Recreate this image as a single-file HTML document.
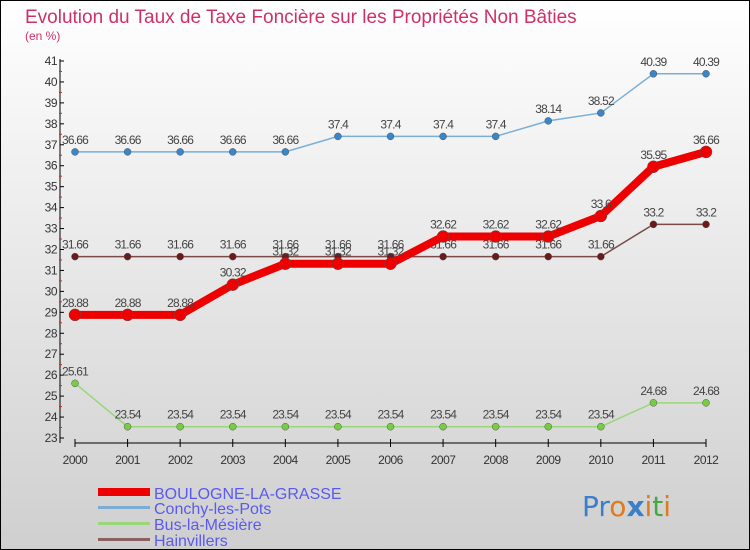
<!DOCTYPE html>
<html><head><meta charset="utf-8"><style>
body{margin:0;width:750px;height:550px;overflow:hidden;font-family:"Liberation Sans",sans-serif}
svg{display:block}
</style></head><body>
<svg id="chart" width="750" height="550" xmlns="http://www.w3.org/2000/svg">
<defs><linearGradient id="bg" x1="0" y1="0" x2="0" y2="1"><stop offset="0" stop-color="#ffffff"/><stop offset="1" stop-color="#cfcfcf"/></linearGradient></defs>
<rect x="0.5" y="0.5" width="749" height="549" fill="url(#bg)" stroke="#000"/>
<text x="25" y="23" font-size="19" fill="#d0306a">Evolution du Taux de Taxe Foncière sur les Propriétés Non Bâties</text>
<text x="25" y="40" font-size="12" fill="#d0306a">(en %)</text>
<g id="axes"></g>
<g id="series"></g>
<g>
<rect x="98" y="488" width="52" height="8" fill="#ee0000"/>
<text x="154" y="499" font-size="16" fill="#5a5aee">BOULOGNE-LA-GRASSE</text>
<rect x="98" y="506" width="52" height="3" fill="#7aaed6"/>
<text x="154" y="514" font-size="16" fill="#5a5aee">Conchy-les-Pots</text>
<rect x="98" y="522" width="52" height="3" fill="#99d77a"/>
<text x="154" y="530" font-size="16" fill="#5a5aee">Bus-la-Mésière</text>
<rect x="98" y="538" width="52" height="3" fill="#8a6060"/>
<text x="154" y="546" font-size="16" fill="#5a5aee">Hainvillers</text>
</g>
<text x="582" y="516" font-size="28" font-family="'DejaVu Sans',sans-serif"><tspan fill="#3a7fc8">Pr</tspan><tspan fill="#e07a1a">o</tspan><tspan fill="#3a7fc8" font-weight="bold">x</tspan><tspan fill="#e07a1a">i</tspan><tspan fill="#45a845">t</tspan><tspan fill="#e07a1a">i</tspan></text>
</svg>
<script>
const years=["2000","2001","2002","2003","2004","2005","2006","2007","2008","2009","2010","2011","2012"];
const yTicks=[23,24,25,26,27,28,29,30,31,32,33,34,35,36,37,38,39,40,41];
const boulogne=[28.88,28.88,28.88,30.32,31.32,31.32,31.32,32.62,32.62,32.62,33.6,35.95,36.66];
const conchy=[36.66,36.66,36.66,36.66,36.66,37.4,37.4,37.4,37.4,38.14,38.52,40.39,40.39];
const bus=[25.61,23.54,23.54,23.54,23.54,23.54,23.54,23.54,23.54,23.54,23.54,24.68,24.68];
const hainvillers=[31.66,31.66,31.66,31.66,31.66,31.66,31.66,31.66,31.66,31.66,31.66,33.2,33.2];
const NS="http://www.w3.org/2000/svg";
const yMin=23,yMax=41,yTop=61,yBot=438,x0=75,x1=706;
function ys(v){return yBot-(v-yMin)*(yBot-yTop)/(yMax-yMin);}
function xs(i){return x0+i*(x1-x0)/(years.length-1);}
function mk(tag,attrs,parent){const e=document.createElementNS(NS,tag);for(const k in attrs)e.setAttribute(k,attrs[k]);parent.appendChild(e);return e;}
const ax=document.getElementById('axes');
let l=mk('line',{x1:60,y1:yTop-2,x2:60,y2:443,stroke:'#000','stroke-width':1},ax);


yTicks.forEach(t=>{
 const y=ys(t);
 mk('line',{x1:60,y1:y,x2:64,y2:y,stroke:'#000'},ax);
 if(t<yMax) mk('line',{x1:59,y1:y-10.5,x2:62,y2:y-10.5,stroke:'#e02020'},ax);
 const tx=mk('text',{x:57,y:y+4,'font-size':12,fill:'#333','text-anchor':'end','letter-spacing':'-0.5'},ax);
 tx.textContent=t;
 
 
});
let xl=mk('line',{x1:x0,y1:443,x2:x1,y2:443,stroke:'#000'},ax);


years.forEach((yr,i)=>{
 const x=xs(i);
 mk('line',{x1:x,y1:439,x2:x,y2:447,stroke:'#000'},ax);
 const tx=mk('text',{x:x,y:464,'font-size':12,fill:'#333','text-anchor':'middle','letter-spacing':'-0.5'},ax);
 tx.textContent=yr;
 
 
});
const sg=document.getElementById('series');
function draw(data,name,color,w,r,fill){
 const g=mk('g',{},sg);
 
 
 const p=mk('polyline',{points:data.map((v,i)=>xs(i)+','+ys(v)).join(' '),fill:'none',stroke:color,'stroke-width':w},g);
 
 
 data.forEach((v,i)=>{
  const c=mk('circle',{cx:xs(i),cy:ys(v),r:r,fill:fill,stroke:'#555','stroke-width':0.5},g);
  
  
  const t=mk('text',{x:xs(i),y:ys(v)-8,'font-size':12,fill:'#444','text-anchor':'middle','letter-spacing':'-0.8'},g);
  t.textContent=String(v);
  
  
 });
}
draw(conchy,'conchy','#7aaed6',1.5,3.5,'#3a86c8');
draw(hainvillers,'hainvillers','#7a4a4a',1.5,3.5,'#6a1a1a');
draw(bus,'bus','#99d77a',1.5,3.5,'#77cc44');
draw(boulogne,'boulogne','#ee0000',8,6,'#ee0000');
</script>
</body></html>
